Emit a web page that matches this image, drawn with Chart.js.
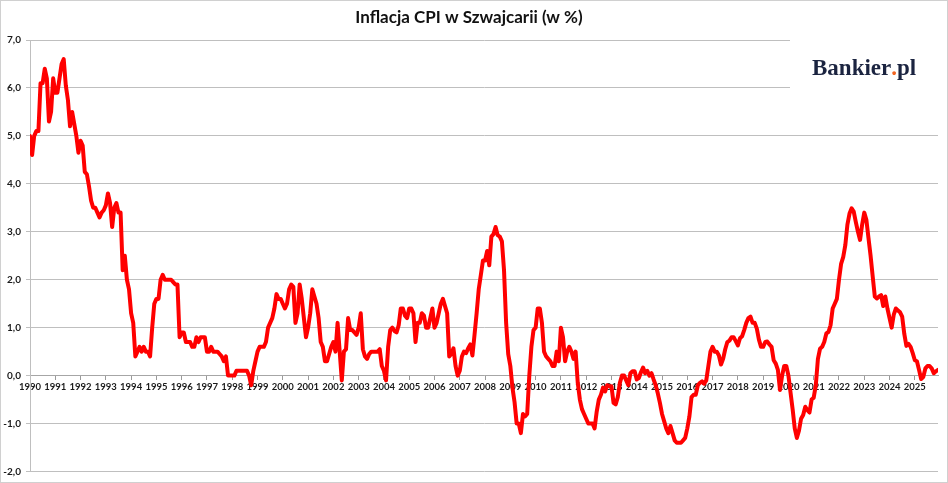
<!DOCTYPE html>
<html>
<head>
<meta charset="utf-8">
<script src="https://cdn.jsdelivr.net/npm/chart.js@4.4.1/dist/chart.umd.min.js"></script>
<style>
html,body{margin:0;padding:0;background:#fff;}
#wrap{position:relative;width:948px;height:483px;}
canvas{display:block;}
</style>
</head>
<body>
<div id="wrap"><canvas id="c" width="948" height="483"></canvas></div>
<script>
const titleText = 'Inflacja CPI w Szwajcarii (w %)';
const logoText = ['Bankier', '.', 'pl'];
const startYear = 1990;
const yearLabels = ['1990','1991','1992','1993','1994','1995','1996','1997','1998','1999',
  '2000','2001','2002','2003','2004','2005','2006','2007','2008','2009',
  '2010','2011','2012','2013','2014','2015','2016','2017','2018','2019',
  '2020','2021','2022','2023','2024','2025'];
const yTickValues = [-2, -1, 0, 1, 2, 3, 4, 5, 6, 7];

// monthly CPI inflation (y/y, %), January 1990 onwards
const infl1990s = [
  5.0, 4.6, 5.0, 5.1, 5.1, 6.1, 6.1, 6.4, 6.2, 5.3, 5.5, 6.2,
  5.9, 5.9, 6.2, 6.5, 6.6, 6.05, 5.75, 5.2, 5.5, 5.25, 5.0, 4.65,
  4.9, 4.8, 4.25, 4.2, 3.95, 3.65, 3.5, 3.5, 3.4, 3.3, 3.4, 3.45,
  3.55, 3.8, 3.6, 3.1, 3.5, 3.6, 3.4, 3.4, 2.2, 2.5, 2.0, 1.8,
  1.3, 1.1, 0.4, 0.5, 0.6, 0.5, 0.6, 0.5, 0.5, 0.4, 1.0, 1.5,
  1.6, 1.6, 2.0, 2.1, 2.0, 2.0, 2.0, 2.0, 1.95, 1.9, 1.9, 0.8,
  0.9, 0.9, 0.7, 0.7, 0.7, 0.6, 0.6, 0.8, 0.7, 0.8, 0.8, 0.8,
  0.5, 0.5, 0.6, 0.5, 0.5, 0.5, 0.45, 0.4, 0.3, 0.4, 0.0, 0.0,
  0.0, 0.0, 0.1, 0.1, 0.1, 0.1, 0.1, 0.1, 0.0, -0.2, 0.1, 0.3,
  0.5, 0.6, 0.6, 0.6, 0.7, 1.0, 1.1, 1.2, 1.4, 1.7, 1.6, 1.6
];
const infl2000s = [
  1.5, 1.4, 1.5, 1.8, 1.9, 1.85, 1.1, 1.3, 1.9, 1.6, 1.2, 0.8,
  1.0, 1.3, 1.8, 1.65, 1.5, 1.2, 0.7, 0.6, 0.3, 0.3, 0.45, 0.6,
  0.7, 0.5, 1.1, 0.5, -0.1, 0.5, 0.55, 1.2, 0.95, 0.95, 0.9, 0.85,
  1.0, 1.3, 0.55, 0.4, 0.35, 0.45, 0.5, 0.5, 0.5, 0.5, 0.55, 0.2,
  0.1, -0.1, 0.6, 0.95, 1.0, 0.93, 0.9, 1.05, 1.4, 1.4, 1.25, 1.2,
  1.4, 1.4, 1.3, 0.7, 1.1, 1.1, 1.3, 1.25, 1.0, 1.0, 1.2, 1.4,
  1.0, 1.1, 1.3, 1.5, 1.6, 1.45, 1.3, 0.4, 0.45, 0.57, 0.2, 0.0,
  0.1, 0.4, 0.5, 0.47, 0.57, 0.65, 0.42, 0.85, 1.3, 1.8, 2.1, 2.4,
  2.4, 2.6, 2.3, 2.9, 2.95, 3.1, 2.93, 2.9, 2.8, 2.2, 1.1, 0.45,
  0.2, -0.25, -0.55, -1.0, -1.0, -1.2, -0.8, -0.85, -0.8, 0.0, 0.6, 0.95
];
const infl2010s = [
  1.0, 1.4, 1.4, 1.1, 0.5, 0.4, 0.35, 0.3, 0.2, 0.2, 0.5, 0.3,
  1.0, 0.8, 0.3, 0.5, 0.6, 0.5, 0.35, 0.5, -0.15, -0.5, -0.7, -0.8,
  -0.9, -1.0, -1.0, -1.0, -1.1, -0.75, -0.5, -0.4, -0.25, -0.33, -0.2, -0.22,
  -0.22, -0.57, -0.6, -0.45, -0.15, 0.0, 0.0, -0.1, -0.2, 0.05, 0.09, 0.09,
  -0.08, -0.05, 0.07, 0.17, 0.05, 0.1, 0.0, 0.05, -0.08, -0.2, -0.37, -0.57,
  -0.8, -0.95, -1.1, -1.2, -1.05, -1.2, -1.35, -1.4, -1.4, -1.4, -1.35, -1.3,
  -1.1, -0.85, -0.45, -0.4, -0.4, -0.2, -0.15, -0.12, -0.17, -0.1, 0.2, 0.5,
  0.6, 0.5, 0.5, 0.42, 0.23, 0.35, 0.55, 0.7, 0.73, 0.8, 0.8, 0.72,
  0.63, 0.78, 0.82, 0.95, 1.1, 1.2, 1.23, 1.1, 1.1, 0.98, 0.75, 0.6,
  0.6, 0.7, 0.71, 0.65, 0.6, 0.32, 0.25, 0.12, -0.3, 0.0, 0.2, 0.2
];
const infl2020s = [
  0.0, -0.35, -0.7, -1.1, -1.3, -1.15, -0.9, -0.82, -0.65, -0.72, -0.77, -0.5,
  -0.46, -0.2, 0.35, 0.56, 0.6, 0.7, 0.88, 0.91, 1.05, 1.4, 1.5, 1.6,
  2.0, 2.33, 2.47, 2.72, 3.15, 3.38, 3.49, 3.42, 3.2, 3.0, 2.83, 3.15,
  3.4, 3.25, 2.87, 2.5, 2.07, 1.65, 1.61, 1.65, 1.68, 1.45, 1.65, 1.4,
  1.2, 1.0, 1.27, 1.4, 1.36, 1.32, 1.23, 0.87, 0.62, 0.66, 0.6, 0.47,
  0.32, 0.3, 0.12, -0.07, -0.03, 0.15, 0.2, 0.2, 0.15, 0.05, 0.09, 0.12
];

const monthly = infl1990s.concat(infl2000s, infl2010s, infl2020s);
const points = monthly.map((v, i) => ({ x: i, y: v }));

const extras = {
  id: 'extras',
  afterDraw(chart) {
    const ctx = chart.ctx;
    ctx.save();
    ctx.fillStyle = '#ffffff';
    ctx.fillRect(790, 30, 152, 70);
    ctx.font = 'bold 23px "Liberation Serif", serif';
    ctx.textBaseline = 'alphabetic';
    let x = 812, y = 75;
    const colors = ['#1b2440', '#f26522', '#1b2440'];
    logoText.forEach((t, k) => {
      ctx.fillStyle = colors[k];
      ctx.fillText(t, x, y);
      x += ctx.measureText(t).width;
    });
    ctx.strokeStyle = '#d0d0d0';
    ctx.lineWidth = 1;
    ctx.strokeRect(0.5, 0.5, 947, 482);
    ctx.restore();
  }
};

new Chart(document.getElementById('c'), {
  type: 'line',
  data: {
    datasets: [{
      data: points,
      borderColor: '#ff0000',
      borderWidth: 4,
      pointRadius: 0,
      tension: 0,
      fill: false,
      borderJoinStyle: 'round',
      borderCapStyle: 'round'
    }]
  },
  options: {
    responsive: false,
    animation: false,
    devicePixelRatio: 1,
    layout: { padding: { left: 0, right: 10, top: 0, bottom: 11.5 } },
    plugins: {
      legend: { display: false },
      tooltip: { enabled: false },
      title: {
        display: true,
        text: titleText,
        color: '#111',
        font: { family: 'Lato', size: 17, weight: 'bold', lineHeight: 1.2 },
        padding: { top: 7.8, bottom: 11.8 }
      }
    },
    scales: {
      x: {
        type: 'linear',
        min: 0,
        max: monthly.length - 1,
        position: { y: 0 },
        afterBuildTicks: s => { s.ticks = yearLabels.map((_, k) => ({ value: k * 12 })); },
        ticks: {
          autoSkip: false, maxRotation: 0, minRotation: 0, padding: 2,
          color: '#1a1a1a',
          font: { family: 'Lato', size: 9.5, weight: 'bold' },
          callback: v => yearLabels[Math.round(v / 12)]
        },
        grid: { drawOnChartArea: false, drawTicks: true, tickLength: 4, color: '#9a9a9a' },
        border: { display: true, color: '#a6a6a6', width: 1 }
      },
      y: {
        min: -2,
        max: 7,
        afterFit: s => { s.width = 30; },
        afterBuildTicks: s => { s.ticks = yTickValues.map(v => ({ value: v })); },
        ticks: {
          color: '#1a1a1a', padding: 5,
          font: { family: 'Lato', size: 10, weight: 'bold' },
          callback: v => v.toFixed(1).replace('.', ',')
        },
        grid: { color: '#bfbfbf', lineWidth: 1, drawTicks: true, tickLength: 4 },
        border: { display: true, color: '#bfbfbf', width: 1 }
      }
    }
  },
  plugins: [extras]
});
</script>
</body>
</html>
